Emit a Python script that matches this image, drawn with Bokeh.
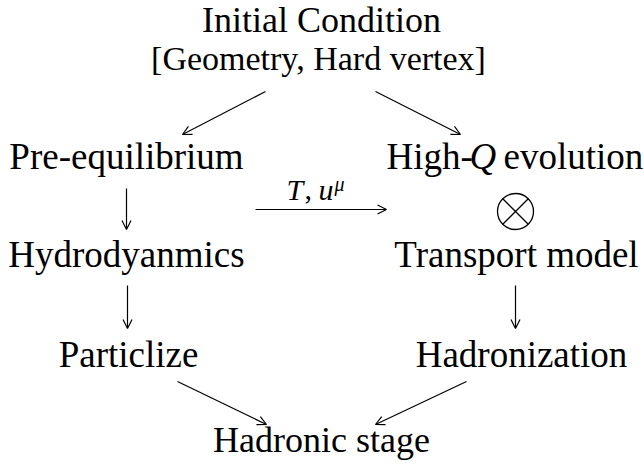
from bokeh.plotting import figure
from bokeh.models import Arrow, OpenHead, Range1d, ColumnDataSource
from bokeh.core.properties import value
from bokeh.embed import file_html
from bokeh.resources import INLINE

FONT = "Liberation Serif"

# Node labels (upright, centred)
labels = ["Initial Condition", "[Geometry, Hard vertex]", "Pre-equilibrium",
          "Hydrodyanmics", "Particlize", "Transport model", "Hadronization",
          "Hadronic stage"]
label_size = [36, 34, 37, 37, 37, 37, 37, 36]
node_x = [321, 318, 126, 126, 128, 516, 521, 321]
node_y = [32, 70, 169, 267, 367, 267, 367, 452]   # baselines

# Mixed-style label "High-Q evolution" pieces
hq_text = ["High-", "Q", "evolution"]
hq_style = ["normal", "italic", "normal"]
hq_x = [386, 469, 503]
hq_y = [169, 169, 169]
hq_size = [37, 37, 37]

# Arrow label "T, u^mu" pieces
tu_text = ["T", ",", "u", "\u03bc"]
tu_style = ["italic", "normal", "italic", "italic"]
tu_size = [30, 30, 30, 20]
tu_x = [286, 304, 318, 334]
tu_y = [199, 199, 199, 190]

# Edges (start x, start y, end x, end y)
edges_x0 = [265, 375, 126, 127, 255, 515, 177, 466]
edges_y0 = [91, 91, 188, 285, 209, 285, 381, 381]
edges_x1 = [182, 460, 126, 127, 386, 515, 266, 375]
edges_y1 = [134, 134, 229, 328, 209, 328, 424, 424]

# Tensor product symbol
ot_x = [515]
ot_y = [211]

BASE_SHIFT = 0.34  # baseline correction (em) for the text renderer


def shifted(ys, sizes):
    return [y - BASE_SHIFT * s for y, s in zip(ys, sizes)]


p = figure(width=644, height=470, x_range=Range1d(0, 644), y_range=Range1d(470, 0),
           output_backend="svg", toolbar_location=None, x_axis_type=None,
           y_axis_type=None, min_border=0)
p.grid.visible = False
p.outline_line_color = None
p.background_fill_color = "white"
p.border_fill_color = "white"

nodes = ColumnDataSource(dict(x=node_x, y=shifted(node_y, label_size), text=labels,
                              size=[f"{s}px" for s in label_size]))
p.text(x="x", y="y", text="text", source=nodes, text_font=value(FONT),
       text_font_size="size", text_align="center", text_baseline="alphabetic",
       text_color="black")

hq = ColumnDataSource(dict(x=hq_x, y=shifted(hq_y, hq_size), text=hq_text,
                           style=hq_style, size=[f"{s}px" for s in hq_size]))
p.text(x="x", y="y", text="text", source=hq, text_font=value(FONT),
       text_font_size="size", text_font_style="style", text_align="left",
       text_baseline="alphabetic", text_color="black")

tu = ColumnDataSource(dict(x=tu_x, y=shifted(tu_y, tu_size), text=tu_text,
                           style=tu_style, size=[f"{s}px" for s in tu_size]))
p.text(x="x", y="y", text="text", source=tu, text_font=value(FONT),
       text_font_size="size", text_font_style="style", text_align="left",
       text_baseline="alphabetic", text_color="black")

for x0, y0, x1, y1 in zip(edges_x0, edges_y0, edges_x1, edges_y1):
    p.add_layout(Arrow(x_start=x0, y_start=y0, x_end=x1, y_end=y1,
                       line_color="black", line_width=1.2,
                       end=OpenHead(size=9, line_width=1.2, line_color="black")))

p.scatter(x=ot_x, y=ot_y, marker="circle_x", size=36, fill_color=None,
          line_color="black", line_width=1.3)

open("out.html", "w").write(file_html(p, INLINE))
